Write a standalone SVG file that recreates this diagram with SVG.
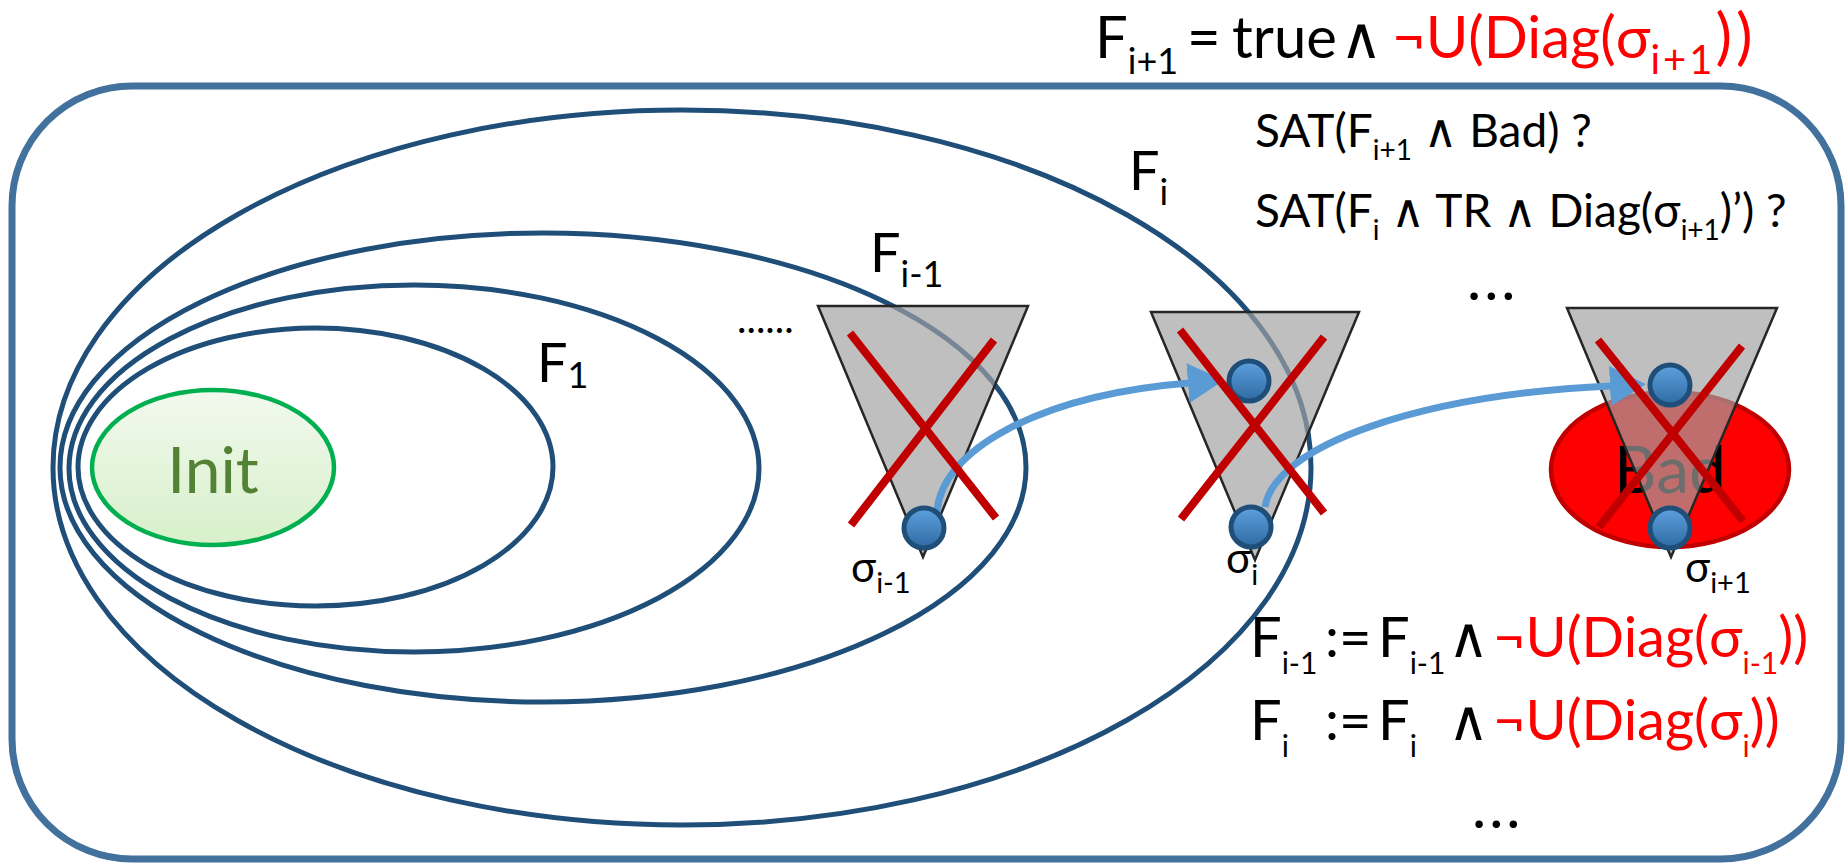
<svg xmlns="http://www.w3.org/2000/svg" width="1848" height="865" viewBox="0 0 1848 865">
<style>
.t{font-family:Lato,"Open Sans","DejaVu Sans",sans-serif;fill:#000}
.m{font-size:46px}
.ss{font-size:28px}
.big{font-size:58px}
.bs{font-size:36px}
.up{font-size:56px}
.us{font-size:30px}
.lbl{font-size:54px}
.sl{font-size:36px}
.sig{font-size:42px}
.sigs{font-size:29px}
.red{fill:#FF0000}
.ell{fill:none;stroke:#1F4E79;stroke-width:5}
.cone{fill:#A1A1A1;fill-opacity:0.68;stroke:#262626;stroke-width:2.5;stroke-linejoin:miter}
.x{stroke:#C00000;stroke-width:8;fill:none}
.st{fill:url(#gB);stroke:#1F4E79;stroke-width:5}
.arr{fill:none;stroke:#5B9BD5;stroke-width:7;marker-end:url(#ah)}
</style>
<defs>
<linearGradient id="gB" x1="0" y1="0" x2="0" y2="1">
<stop offset="0" stop-color="#5EA1DE"/>
<stop offset="1" stop-color="#2E6AA2"/>
</linearGradient>
<linearGradient id="gI" x1="0" y1="0" x2="0" y2="1">
<stop offset="0" stop-color="#F2F9EE"/>
<stop offset="1" stop-color="#D7F0CA"/>
</linearGradient>
<marker id="ah" markerUnits="userSpaceOnUse" viewBox="0 0 36 40" markerWidth="36" markerHeight="40" refX="1" refY="20" orient="auto">
<path d="M0,0 L36,20 L0,40 z" fill="#5B9BD5"/>
</marker>
</defs>
<rect width="1848" height="865" fill="#FFFFFF"/>

<g id="frame">
<rect x="12" y="86" width="1829" height="773" rx="120" ry="120" fill="none" stroke="#41719C" stroke-width="7"/>
</g>

<g id="frame-Fi"><ellipse class="ell" cx="682" cy="467.5" rx="629" ry="357.5"/></g>
<g id="frame-Fi-1"><ellipse class="ell" cx="543" cy="467.5" rx="483" ry="234.5"/></g>
<g id="frame-F2"><ellipse class="ell" cx="414" cy="468.5" rx="345" ry="183.5"/></g>
<g id="frame-F1"><ellipse class="ell" cx="315.5" cy="467" rx="237.5" ry="139"/></g>

<g id="init">
<ellipse cx="213" cy="467.5" rx="121" ry="77.5" fill="url(#gI)" stroke="#00B050" stroke-width="4.5"/>
<text class="t" x="213" y="493" text-anchor="middle" font-size="64" style="fill:#548235">Init</text>
</g>

<g id="bad">
<ellipse cx="1670" cy="469.5" rx="119" ry="77.5" fill="#FF0000" stroke="#C00000" stroke-width="4.5"/>
<text class="t" x="1670" y="493" text-anchor="middle" font-size="66">Bad</text>
</g>

<g id="cone1"><polygon class="cone" points="818,306 1028,306 923,557"/></g>
<g id="cone2"><polygon class="cone" points="1151,312 1359,312 1255,560"/></g>
<g id="cone3"><polygon class="cone" points="1567,308 1777,308 1671,557"/></g>

<g id="connectors">
<path class="arr" d="M937 513 C940 450 1040 395 1189 383"/>
<path class="arr" d="M1265 507 C1275 445 1420 395 1611 386"/>
</g>

<g id="state-sigma-i-1"><circle class="st" cx="924" cy="528" r="20"/></g>
<g id="state-cone2-top"><circle class="st" cx="1249" cy="381" r="20"/></g>
<g id="state-sigma-i"><circle class="st" cx="1251" cy="527" r="20"/></g>
<g id="state-cone3-top"><circle class="st" cx="1670" cy="385" r="20"/></g>
<g id="state-sigma-i+1"><circle class="st" cx="1670" cy="528" r="20"/></g>

<g id="cross1"><path class="x" d="M850 333 L996 518 M994 340 L851 525"/></g>
<g id="cross2"><path class="x" d="M1180 330 L1324 513 M1324 337 L1181 519"/></g>
<g id="cross3"><path class="x" d="M1598 340 L1743 521 M1742 346 L1599 527"/></g>

<g id="labels">
<text class="t lbl" x="537" y="382">F<tspan class="sl" y="388">1</tspan></text>
<text class="t lbl" x="870" y="272">F<tspan class="sl" y="287">i-1</tspan></text>
<text class="t lbl" x="1129" y="190">F<tspan class="sl" y="205">i</tspan></text>
<text class="t" x="737" y="333" font-size="40">......</text>
<text class="t" x="1467" y="300" font-size="60" letter-spacing="3">...</text>
<text class="t" x="1472" y="828" font-size="60" letter-spacing="3">...</text>
<text class="t sig" x="851" y="582">σ<tspan class="sigs" y="593">i-1</tspan></text>
<text class="t sig" x="1226" y="573">σ<tspan class="sigs" y="585">i</tspan></text>
<text class="t sig" x="1685" y="582">σ<tspan class="sigs" y="593">i+1</tspan></text>
</g>

<g id="title">
<text class="t big" y="58"><tspan x="1095">F</tspan><tspan class="bs" y="74">i+1</tspan><tspan x="1187" y="58">=</tspan><tspan x="1232">true</tspan><tspan x="1340">∧</tspan><tspan class="red" x="1392">¬U(Diag(σ</tspan><tspan class="red" font-size="40" y="74" letter-spacing="3">i+1</tspan><tspan class="red" font-size="62" y="58" letter-spacing="4">))</tspan></text>
</g>

<g id="queries">
<text class="t m" x="1255" y="147">SAT(F<tspan class="ss" y="160">i+1</tspan><tspan y="147"> ∧ Bad) ?</tspan></text>
<text class="t m" x="1255" y="227">SAT(F<tspan class="ss" y="240">i</tspan><tspan y="227"> ∧ TR ∧ Diag(σ</tspan><tspan class="ss" y="240">i+1</tspan><tspan y="227">)’) ?</tspan></text>
</g>

<g id="updates">
<text class="t up" y="657"><tspan x="1250">F</tspan><tspan class="us" y="674">i-1</tspan><tspan x="1325" y="657">:=</tspan><tspan x="1378">F</tspan><tspan class="us" y="674">i-1</tspan><tspan x="1448" y="657">∧</tspan><tspan class="red" x="1493">¬U(Diag(σ</tspan><tspan class="us red" y="674">i-1</tspan><tspan class="red" y="657">))</tspan></text>
<text class="t up" y="740"><tspan x="1250">F</tspan><tspan class="us" y="757">i</tspan><tspan x="1325" y="740">:=</tspan><tspan x="1378">F</tspan><tspan class="us" y="757">i</tspan><tspan x="1448" y="740">∧</tspan><tspan class="red" x="1493">¬U(Diag(σ</tspan><tspan class="us red" y="757">i</tspan><tspan class="red" y="740">))</tspan></text>
</g>
</svg>
